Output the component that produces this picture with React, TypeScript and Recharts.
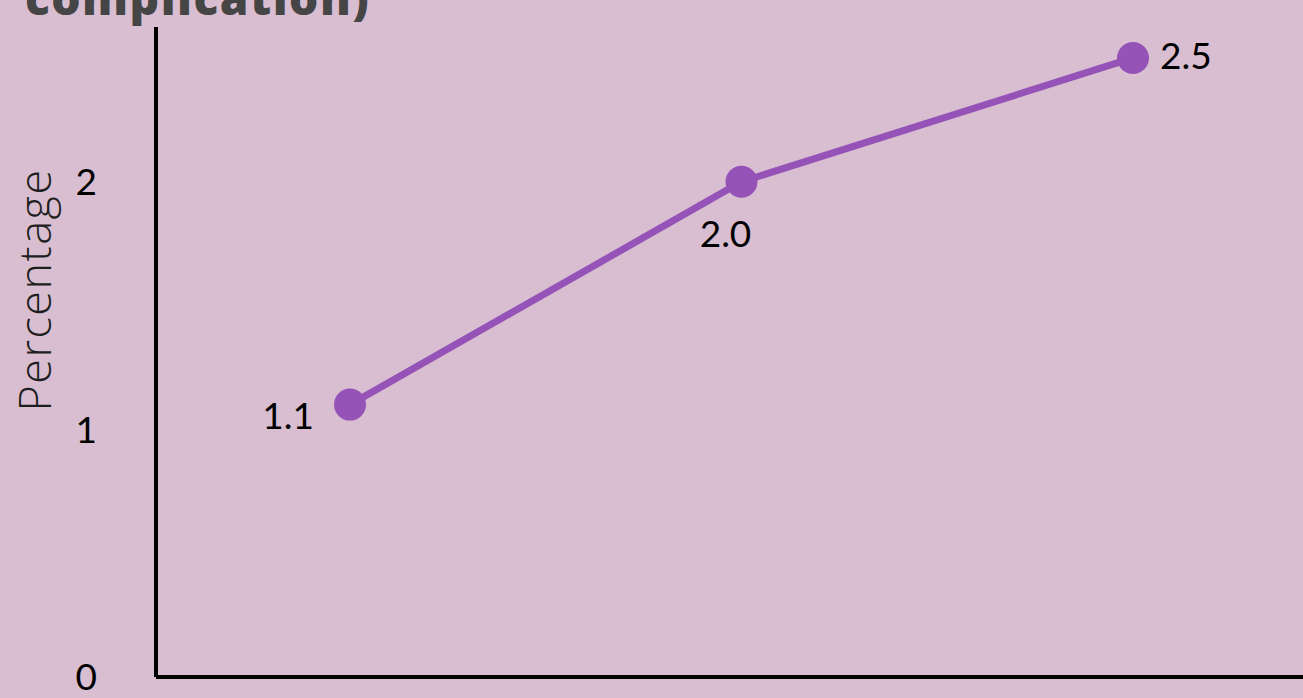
import { LineChart, Line, XAxis, YAxis, LabelList } from "recharts";

const groups = ["Group 1", "Group 2", "Group 3"];
const percentages = [1.1, 2.0, 2.5];
const yTicks = [0, 1, 2];

const data = groups.map((g, i) => ({ group: g, value: percentages[i] }));

// where each point's value label sits relative to its dot
const labelPlacement = [
  { dx: -36, dy: 24, anchor: "end" },
  { dx: -16, dy: 65, anchor: "middle" },
  { dx: 27, dy: 11, anchor: "start" },
];

const PURPLE = "#9553b8";

const PointLabel = (props: any) => {
  const { x, y, value, index } = props;
  const p = labelPlacement[index] || labelPlacement[0];
  return (
    <text
      x={x + p.dx}
      y={y + p.dy}
      textAnchor={p.anchor}
      fontFamily="Lato"
      fontSize={37}
      fill="#000"
    >
      {Number(value).toFixed(1)}
    </text>
  );
};

const AxisTitle = (props: any) => {
  const { viewBox } = props;
  const cx = viewBox.x - 23;
  const cy = viewBox.y + viewBox.height / 2 - 62;
  return (
    <text
      x={cx}
      y={cy}
      transform={`rotate(-90 ${cx} ${cy})`}
      textAnchor="middle"
      dominantBaseline="central"
      fontFamily="Open Sans"
      fontWeight={300}
      fontSize={45}
      letterSpacing={1.5}
      fill="#1e1e1e"
    >
      Percentage
    </text>
  );
};

export default function App() {
  return (
    <div
      style={{
        position: "fixed",
        top: 0,
        left: 0,
        width: 1303,
        height: 698,
        overflow: "hidden",
        background: "#d9bdd0",
      }}
    >
      <svg
        width={1303}
        height={60}
        style={{ position: "absolute", top: 0, left: 0 }}
      >
        <text
          x={25}
          y={15}
          fontFamily="Open Sans"
          fontWeight={800}
          fontSize={46}
          letterSpacing={1.5}
          fill="#454545"
        >
          complication)
        </text>
      </svg>
      <div style={{ position: "absolute", top: 0, left: 0 }}>
        <LineChart
          width={1340}
          height={760}
          data={data}
          margin={{ top: 27, right: 13, left: 56, bottom: 23 }}
        >
          <XAxis
            dataKey="group"
            tick={false}
            tickLine={false}
            height={60}
            padding={{ left: 194, right: 194 }}
            axisLine={{ stroke: "#000", strokeWidth: 4 }}
          />
          <YAxis
            width={100}
            domain={[0, 2.625]}
            ticks={yTicks}
            tickLine={false}
            tickSize={0}
            tickMargin={59}
            axisLine={{ stroke: "#000", strokeWidth: 4 }}
            tick={{ fontFamily: "Lato", fontSize: 37, fill: "#000" }}
            label={<AxisTitle />}
          />
          <Line
            dataKey="value"
            stroke={PURPLE}
            strokeWidth={7}
            dot={{ r: 16, fill: PURPLE, stroke: PURPLE, strokeWidth: 0 }}
            activeDot={false}
            isAnimationActive={false}
          >
            <LabelList dataKey="value" content={<PointLabel />} />
          </Line>
        </LineChart>
      </div>
    </div>
  );
}
